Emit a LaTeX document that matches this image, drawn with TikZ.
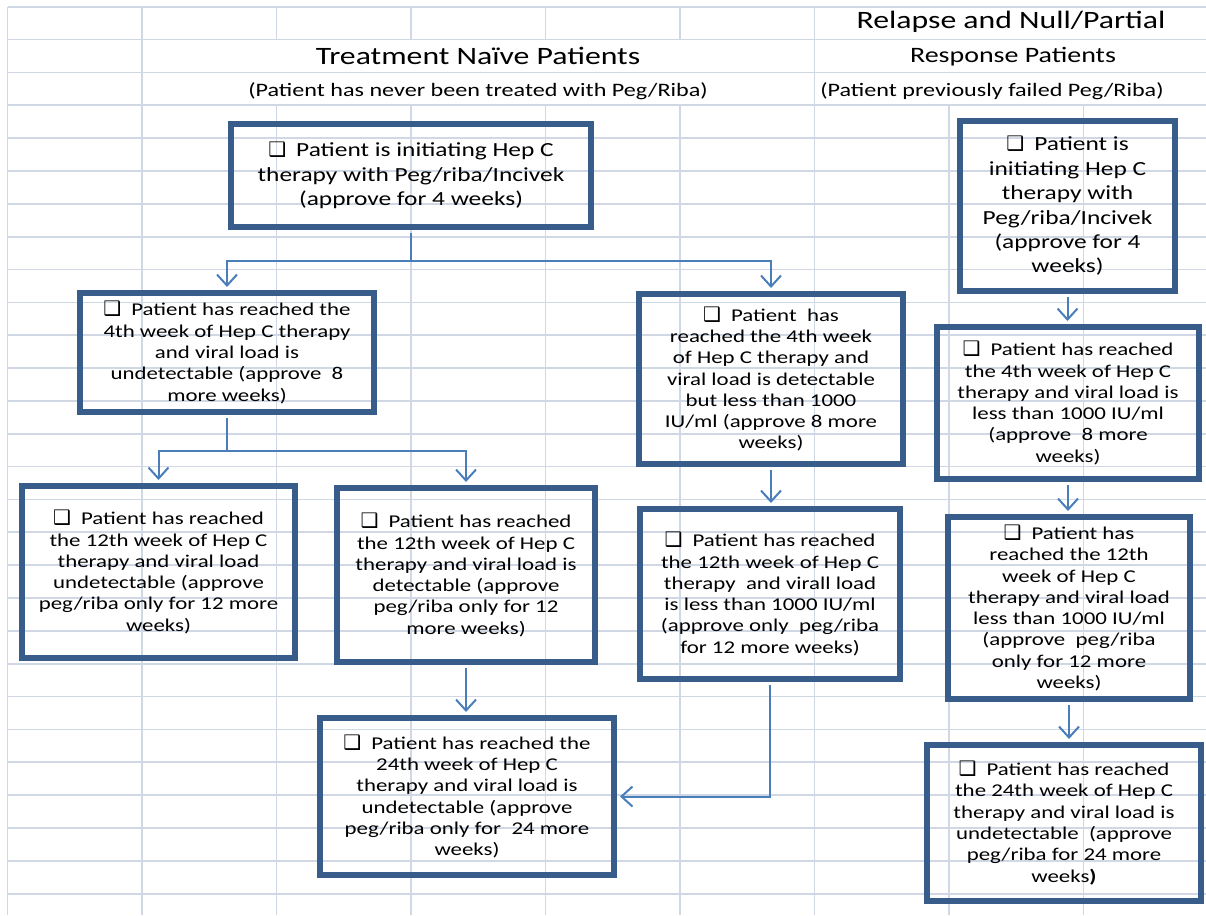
\documentclass[tikz,border=0pt]{standalone}
\usepackage{fontspec}
\setmainfont{Carlito}[FakeStretch=1.27]
\newfontfamily\boxsymfont{DejaVu Sans}
\usetikzlibrary{arrows.meta}

\definecolor{gridline}{RGB}{208,215,229}
\definecolor{boxedge}{RGB}{56,93,138}
\definecolor{flowline}{RGB}{74,126,187}

% check box in front of every box text
\newcommand{\boxmark}{{\boxsymfont\fontsize{20}{14}\selectfont ❑}\hspace{10pt}}

\begin{document}
\begin{tikzpicture}[x=1pt, y=-1pt,
  gridrule/.style={draw=gridline, line width=1.7pt},
  stepbox/.style={draw=boxedge, line width=6pt, align=center, inner sep=0pt,
    font=\fontsize{18}{21.3}\selectfont},
  bigbox/.style={stepbox, font=\fontsize{20}{24.4}\selectfont},
  heading/.style={inner sep=0pt, font=\fontsize{25}{25}\selectfont},
  subhead/.style={inner sep=0pt, font=\fontsize{22}{22}\selectfont},
  note/.style={inner sep=0pt, font=\fontsize{19}{19}\selectfont},
  flow/.style={draw=flowline, line width=2pt, shorten <=3pt, shorten >=3pt,
    -{Straight Barb[length=11pt, width=20pt]}}]

  \useasboundingbox (0,0) rectangle (1206,915);

  % --- Rejilla de la hoja ---
  \foreach \j in {0,...,27}
    \draw[gridrule] (7.5,{6.7+32.85*\j}) -- (1206,{6.7+32.85*\j});
  \foreach \k in {0,1,6}
    \draw[gridrule] ({7.5+134.5*\k},6.7) -- ({7.5+134.5*\k},915);
  \foreach \k in {2,3,4,5} {
    \draw[gridrule] ({7.5+134.5*\k},6.7) -- ({7.5+134.5*\k},39.5);
    \draw[gridrule] ({7.5+134.5*\k},105.2) -- ({7.5+134.5*\k},915);
  }
  \foreach \k in {7,8}
    \draw[gridrule] ({7.5+134.5*\k},105.2) -- ({7.5+134.5*\k},915);

  % --- Titulos ---
  \node[heading] (relapsehead) at (1011,22) {Relapse and Null/Partial};
  \node[heading] (naivehead) at (478,56) {Treatment Naïve Patients};
  \node[subhead] (responsehead) at (1013,57) {Response Patients};
  \node[note] (naivenote) at (478,91) {(Patient has never been treated with Peg/Riba)};
  \node[note] (failnote) at (992,91) {(Patient previously failed Peg/Riba)};

  % --- Pacientes sin tratamiento previo ---
  \node[bigbox, minimum width=360pt, minimum height=103pt] (naive0) at (411,175.5)
    {\boxmark Patient is initiating Hep C\\ therapy with Peg/riba/Incivek\\ (approve for 4 weeks)};
  \node[stepbox, minimum width=294pt, minimum height=119pt] (naive4u) at (227,352.5)
    {\boxmark Patient has reached the\\ 4th week of Hep C therapy\\ and viral load is\\ undetectable (approve\ \ 8\\ more weeks)};
  \node[stepbox, minimum width=264pt, minimum height=170pt] (naive4d) at (771,379)
    {\boxmark Patient\ \ has\\ reached the 4th week\\ of Hep C therapy and\\ viral load is detectable\\ but less than 1000\\ IU/ml (approve 8 more\\ weeks)};
  \node[stepbox, minimum width=273pt, minimum height=172pt] (naive12u) at (158.5,572)
    {\boxmark Patient has reached\\ the 12th week of Hep C\\ therapy and viral load\\ undetectable (approve\\ peg/riba only for 12 more\\ weeks)};
  \node[stepbox, minimum width=258pt, minimum height=174pt] (naive12d) at (466,575)
    {\boxmark Patient has reached\\ the 12th week of Hep C\\ therapy and viral load is\\ detectable (approve\\ peg/riba only for 12\\ more weeks)};
  \node[stepbox, minimum width=260pt, minimum height=170pt] (naive12m) at (770,594)
    {\boxmark Patient has reached\\ the 12th week of Hep C\\ therapy\ \ and virall load\\ is less than 1000 IU/ml\\ (approve only\ \ peg/riba\\ for 12 more weeks)};
  \node[stepbox, minimum width=294pt, minimum height=157pt] (naive24) at (467,796.5)
    {\boxmark Patient has reached the\\ 24th week of Hep C\\ therapy and viral load is\\ undetectable (approve\\ peg/riba only for\ \ 24 more\\ weeks)};

  % --- Pacientes con fallo previo ---
  \node[bigbox, minimum width=215pt, minimum height=170pt] (fail0) at (1067.5,206)
    {\boxmark Patient is\\ initiating Hep C\\ therapy with\\ Peg/riba/Incivek\\ (approve for 4\\ weeks)};
  \node[stepbox, minimum width=262pt, minimum height=152pt] (fail4) at (1068,403)
    {\boxmark Patient has reached\\ the 4th week of Hep C\\ therapy and viral load is\\ less than 1000 IU/ml\\ (approve\ \ 8 more\\ weeks)};
  \node[stepbox, minimum width=242pt, minimum height=182pt] (fail12) at (1069,608)
    {\boxmark Patient has\\ reached the 12th\\ week of Hep C\\ therapy and viral load\\ less than 1000 IU/ml\\ (approve\ \ peg/riba\\ only for 12 more\\ weeks)};
  \node[stepbox, minimum width=274pt, minimum height=156pt] (fail24) at (1064,823)
    {\boxmark Patient has reached\\ the 24th week of Hep C\\ therapy and viral load is\\ undetectable\ \ (approve\\ peg/riba for 24 more\\ weeks\textbf{)}};

  % --- Conectores ---
  \coordinate (naivesplit) at (411,261);
  \coordinate (undetsplit) at (227,451);
  \draw[flow] (naive0.south) -- (naivesplit) -| (naive4u.north);
  \draw[flow, shorten <=0pt] (naivesplit) -| (naive4d.north);
  \draw[flow] (naive4u.south) -- (undetsplit) -| (naive12u.north);
  \draw[flow, shorten <=0pt] (undetsplit) -| (naive12d.north);
  \draw[flow] (naive4d.south) -- (naive4d.south |- naive12m.north);
  \draw[flow] (naive12d.south) -- (naive12d.south |- naive24.north);
  \draw[flow] (naive12m.south) |- (naive24.east);
  \draw[flow] (fail0.south) -- (fail0.south |- fail4.north);
  \draw[flow] (fail4.south) -- (fail4.south |- fail12.north);
  \draw[flow] (fail12.south) -- (fail12.south |- fail24.north);

\end{tikzpicture}
\end{document}
